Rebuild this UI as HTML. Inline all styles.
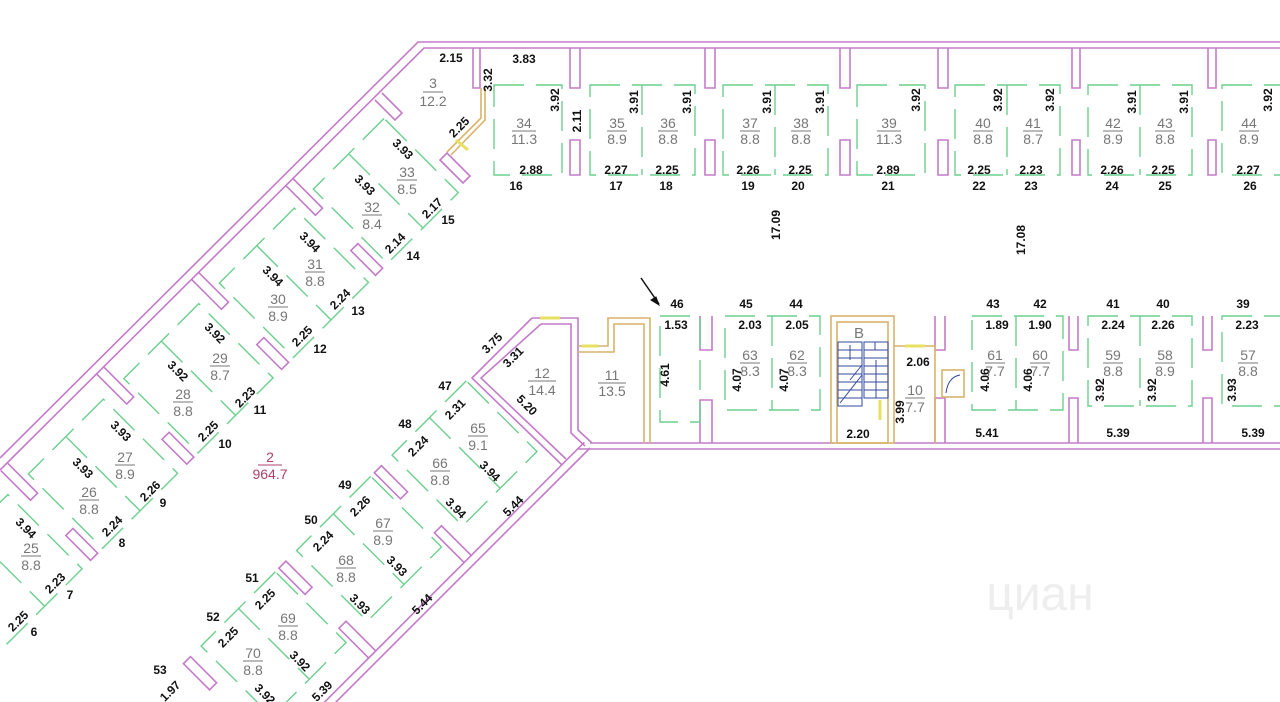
<!DOCTYPE html>
<html><head><meta charset="utf-8"><style>
html,body{margin:0;padding:0;background:#fff;width:1280px;height:702px;overflow:hidden}
svg{display:block;overflow:hidden}
.w{fill:none;stroke:#c37bc9;stroke-width:1.6}
.g{fill:none;stroke:#6ccf8e;stroke-width:1.4;stroke-dasharray:30 12}
.o{fill:none;stroke:#d9b46a;stroke-width:1.6}
.d{font-family:"Liberation Sans",sans-serif;font-weight:bold;font-size:12px;fill:#111;text-anchor:middle}
.r{font-family:"Liberation Sans",sans-serif;font-size:14px;fill:#777;text-anchor:middle}
.rl{stroke:#777;stroke-width:1}
</style></head><body>
<svg width="1280" height="702" viewBox="0 0 1280 702" xmlns="http://www.w3.org/2000/svg">
<polyline class="w" points="0,458 418,42 1280,42"/>
<polyline class="w" points="0,470 424,48 1280,48"/>
<g class="w">
<path d="M473,48V88H480V48"/>
<path d="M570,48V88H580V48 M570,175V140H580V175Z"/>
<path d="M705,48V88H715V48 M705,175V140H715V175Z"/>
<path d="M840,48V88H850V48 M840,175V140H850V175Z"/>
<path d="M938,48V88H948V48 M938,175V140H948V175Z"/>
<path d="M1072,48V88H1080V48 M1072,175V140H1080V175Z"/>
<path d="M1208,48V88H1216V48 M1208,175V140H1216V175Z"/>
</g>
<g class="g">
<rect x="494" y="85" width="68" height="90"/>
<rect x="590" y="85" width="105" height="90"/><line x1="642" y1="85" x2="642" y2="175"/>
<rect x="723" y="85" width="105" height="90"/><line x1="775" y1="85" x2="775" y2="175"/>
<rect x="857" y="85" width="68" height="90"/>
<rect x="955" y="85" width="105" height="90"/><line x1="1007" y1="85" x2="1007" y2="175"/>
<rect x="1088" y="85" width="104" height="90"/><line x1="1140" y1="85" x2="1140" y2="175"/>
<rect x="1222" y="85" width="80" height="90"/>
</g>
<polyline class="o" points="481,88 481,118 447,152" />
<polyline class="o" points="485,88 485,120 451,155"/>
<path class="w" d="M375,100 L395,120 L402,113 L382,93"/>
<path class="w" d="M440,160 L463,183 L470,176 L447,153Z"/>
<g class="w">
<path d="M590,443H835 M893,443H1280 M578,449H1280"/>
<path d="M700,316V350H712V316 M700,443V400H712V443"/>
<path d="M935,316V350H945V316 M935,443V398H945V443"/>
<path d="M1069,316V350H1078V316 M1069,443V398H1078V443"/>
<path d="M1203,316V350H1212V316 M1203,443V398H1212V443"/>
<polyline points="532,318 578,318 578,430 592,443"/>
<polyline points="541,324 571,324 571,433 585,446"/>
<polyline points="532,318 472,378 562,465"/>
<polyline points="541,324 481,378 566,459"/>
</g>
<polyline class="o" points="578,346 608,346 608,318 650,318 650,443"/>
<polyline class="o" points="578,352 614,352 614,324 644,324 644,443"/>
<rect class="o" x="831" y="316" width="63" height="127"/>
<rect class="o" x="837" y="322" width="51" height="121"/>
<polyline class="o" points="894,346 935,346 935,443"/>
<rect class="o" x="942" y="370" width="22" height="27"/>
<g stroke="#334aa0" stroke-width="1" fill="none">
<rect x="838" y="342" width="24" height="64"/><rect x="864" y="342" width="24" height="56"/>
<path d="M838,350H862M838,358H862M838,366H862M838,374H862M838,382H862M838,390H862M838,398H862"/>
<path d="M864,350H888M864,358H888M864,366H888M864,374H888M864,382H888M864,390H888"/>
<path d="M875,342V350M876,398V390 M850,380L862,365 M850,345V360 M876,360V398"/>
<path d="M840,403L862,375"/>
<path d="M946,393Q948,377 960,375"/>
</g>
<g class="g">
<rect x="660" y="316" width="40" height="106"/>
<rect x="725" y="316" width="95" height="94"/><line x1="772" y1="316" x2="772" y2="410"/>
<rect x="972" y="316" width="91" height="94"/><line x1="1016" y1="316" x2="1016" y2="410"/>
<rect x="1088" y="316" width="104" height="90"/><line x1="1140" y1="316" x2="1140" y2="406"/>
<rect x="1222" y="316" width="80" height="90"/>
</g>
<g transform="translate(418,42) rotate(135) scale(1,-1)">
<g class="w">
<path d="M185,8V50H195V8 M318,8V50H328V8 M452,8V50H462V8 M588,8V50H598V8"/>
<path d="M185,100V135H195V100Z M318,100V135H328V100Z M452,100V135H462V100Z M588,100V135H598V100Z"/>
</g>
<g class="g">
<rect x="78" y="30" width="100" height="105"/><line x1="128" y1="30" x2="128" y2="135"/>
<rect x="205" y="30" width="106" height="105"/><line x1="258" y1="30" x2="258" y2="135"/>
<rect x="340" y="30" width="106" height="105"/><line x1="393" y1="30" x2="393" y2="135"/>
<rect x="475" y="30" width="106" height="105"/><line x1="528" y1="30" x2="528" y2="135"/>
<rect x="610" y="30" width="106" height="105"/><line x1="663" y1="30" x2="663" y2="135"/>
</g>
</g>
<g transform="translate(590,448) rotate(135) scale(1,-1)">
<g class="w">
<path d="M0,0H400 M0,-8H400"/>
<path d="M160,-8V-50H170V-8 M295,-8V-50H305V-8"/>
<path d="M160,-98V-135H170V-98Z M295,-98V-135H305V-98Z M430,-98V-135H440V-98Z"/>
</g>
<g class="g">
<rect x="40" y="-135" width="105" height="100"/><line x1="92" y1="-135" x2="92" y2="-35"/>
<rect x="175" y="-135" width="105" height="100"/><line x1="228" y1="-135" x2="228" y2="-35"/>
<rect x="310" y="-135" width="105" height="100"/><line x1="362" y1="-135" x2="362" y2="-35"/>
</g>
</g>
<g stroke="#e8e060" stroke-width="3">
<path d="M540,318H560M582,346H598M905,346H925M880,400V420M456,140L468,150"/>
</g>
<path d="M641,278L659,304" stroke="#111" stroke-width="1.5"/>
<path d="M659,305L651,300L656,297Z" fill="#111" stroke="#111"/>

<text class="d" x="451" y="62">2.15</text>
<text class="d" x="524" y="63">3.83</text>
<text class="r" x="433" y="88">3</text><line class="rl" x1="423" y1="92" x2="443" y2="92"/><text class="r" x="433" y="106">12.2</text>
<text class="d" transform="translate(492,80) rotate(-90)">3.32</text>
<text class="d" transform="translate(462,130) rotate(-45)">2.25</text>
<g>
<text class="r" x="524" y="128">34</text><line class="rl" x1="512" y1="131" x2="536" y2="131"/><text class="r" x="524" y="144">11.3</text>
<text class="r" x="617" y="128">35</text><line class="rl" x1="607" y1="131" x2="627" y2="131"/><text class="r" x="617" y="144">8.9</text>
<text class="r" x="668" y="128">36</text><line class="rl" x1="658" y1="131" x2="678" y2="131"/><text class="r" x="668" y="144">8.8</text>
<text class="r" x="750" y="128">37</text><line class="rl" x1="740" y1="131" x2="760" y2="131"/><text class="r" x="750" y="144">8.8</text>
<text class="r" x="801" y="128">38</text><line class="rl" x1="791" y1="131" x2="811" y2="131"/><text class="r" x="801" y="144">8.8</text>
<text class="r" x="889" y="128">39</text><line class="rl" x1="877" y1="131" x2="901" y2="131"/><text class="r" x="889" y="144">11.3</text>
<text class="r" x="983" y="128">40</text><line class="rl" x1="973" y1="131" x2="993" y2="131"/><text class="r" x="983" y="144">8.8</text>
<text class="r" x="1033" y="128">41</text><line class="rl" x1="1023" y1="131" x2="1043" y2="131"/><text class="r" x="1033" y="144">8.7</text>
<text class="r" x="1113" y="128">42</text><line class="rl" x1="1103" y1="131" x2="1123" y2="131"/><text class="r" x="1113" y="144">8.9</text>
<text class="r" x="1165" y="128">43</text><line class="rl" x1="1155" y1="131" x2="1175" y2="131"/><text class="r" x="1165" y="144">8.8</text>
<text class="r" x="1249" y="128">44</text><line class="rl" x1="1239" y1="131" x2="1259" y2="131"/><text class="r" x="1249" y="144">8.9</text>
</g>
<g class="d">
<text x="531" y="174">2.88</text><text x="616" y="174">2.27</text><text x="667" y="174">2.25</text>
<text x="748" y="174">2.26</text><text x="800" y="174">2.25</text><text x="888" y="174">2.89</text>
<text x="979" y="174">2.25</text><text x="1031" y="174">2.23</text><text x="1112" y="174">2.26</text>
<text x="1163" y="174">2.25</text><text x="1248" y="174">2.27</text>
<text x="516" y="190">16</text><text x="616" y="190">17</text><text x="666" y="190">18</text>
<text x="748" y="190">19</text><text x="798" y="190">20</text><text x="888" y="190">21</text>
<text x="979" y="190">22</text><text x="1031" y="190">23</text><text x="1112" y="190">24</text>
<text x="1165" y="190">25</text><text x="1250" y="190">26</text>
</g>
<g class="d">
<text transform="translate(559,100) rotate(-90)">3.92</text>
<text transform="translate(638,102) rotate(-90)">3.91</text>
<text transform="translate(691,102) rotate(-90)">3.91</text>
<text transform="translate(771,102) rotate(-90)">3.91</text>
<text transform="translate(824,102) rotate(-90)">3.91</text>
<text transform="translate(920,100) rotate(-90)">3.92</text>
<text transform="translate(1002,100) rotate(-90)">3.92</text>
<text transform="translate(1054,100) rotate(-90)">3.92</text>
<text transform="translate(1136,102) rotate(-90)">3.91</text>
<text transform="translate(1188,102) rotate(-90)">3.91</text>
<text transform="translate(1272,100) rotate(-90)">3.92</text>
<text transform="translate(581,121) rotate(-90)">2.11</text>
<text transform="translate(780,225) rotate(-90)">17.09</text>
<text transform="translate(1025,240) rotate(-90)">17.08</text>
</g>
<g class="d">
<text x="677" y="308">46</text><text x="746" y="308">45</text><text x="796" y="308">44</text>
<text x="993" y="308">43</text><text x="1040" y="308">42</text><text x="1113" y="308">41</text>
<text x="1163" y="308">40</text><text x="1243" y="308">39</text>
<text x="676" y="329">1.53</text><text x="750" y="329">2.03</text><text x="797" y="329">2.05</text>
<text x="997" y="329">1.89</text><text x="1040" y="329">1.90</text><text x="1113" y="329">2.24</text>
<text x="1163" y="329">2.26</text><text x="1247" y="329">2.23</text>
<text x="918" y="366">2.06</text><text x="858" y="438">2.20</text>
<text x="987" y="437">5.41</text><text x="1118" y="437">5.39</text><text x="1253" y="437">5.39</text>
<text transform="translate(669,375) rotate(-90)">4.61</text>
<text transform="translate(741,380) rotate(-90)">4.07</text>
<text transform="translate(788,380) rotate(-90)">4.07</text>
<text transform="translate(989,380) rotate(-90)">4.06</text>
<text transform="translate(1032,380) rotate(-90)">4.06</text>
<text transform="translate(1104,390) rotate(-90)">3.92</text>
<text transform="translate(1156,390) rotate(-90)">3.92</text>
<text transform="translate(1236,390) rotate(-90)">3.93</text>
<text transform="translate(904,412) rotate(-90)">3.99</text>
</g>
<text class="r" x="859" y="338" style="font-size:15px">B</text>
<g>
<text class="r" x="750" y="360">63</text><line class="rl" x1="740" y1="363" x2="760" y2="363"/><text class="r" x="750" y="376">8.3</text>
<text class="r" x="797" y="360">62</text><line class="rl" x1="787" y1="363" x2="807" y2="363"/><text class="r" x="797" y="376">8.3</text>
<text class="r" x="995" y="360">61</text><line class="rl" x1="985" y1="363" x2="1005" y2="363"/><text class="r" x="995" y="376">7.7</text>
<text class="r" x="1040" y="360">60</text><line class="rl" x1="1030" y1="363" x2="1050" y2="363"/><text class="r" x="1040" y="376">7.7</text>
<text class="r" x="1113" y="360">59</text><line class="rl" x1="1103" y1="363" x2="1123" y2="363"/><text class="r" x="1113" y="376">8.8</text>
<text class="r" x="1165" y="360">58</text><line class="rl" x1="1155" y1="363" x2="1175" y2="363"/><text class="r" x="1165" y="376">8.9</text>
<text class="r" x="1248" y="360">57</text><line class="rl" x1="1238" y1="363" x2="1258" y2="363"/><text class="r" x="1248" y="376">8.8</text>
<text class="r" x="915" y="395">10</text><line class="rl" x1="905" y1="398" x2="925" y2="398"/><text class="r" x="915" y="412">7.7</text>
<text class="r" x="612" y="380">11</text><line class="rl" x1="598" y1="383" x2="626" y2="383"/><text class="r" x="612" y="396">13.5</text>
<text class="r" x="542" y="378">12</text><line class="rl" x1="528" y1="381" x2="556" y2="381"/><text class="r" x="542" y="395">14.4</text>
</g>
<g class="r">
<text x="407" y="177">33</text><line class="rl" x1="397" y1="180" x2="417" y2="180"/><text x="407" y="194">8.5</text>
<text x="372" y="212">32</text><line class="rl" x1="362" y1="215" x2="382" y2="215"/><text x="372" y="229">8.4</text>
<text x="315" y="269">31</text><line class="rl" x1="305" y1="272" x2="325" y2="272"/><text x="315" y="286">8.8</text>
<text x="278" y="304">30</text><line class="rl" x1="268" y1="307" x2="288" y2="307"/><text x="278" y="321">8.9</text>
<text x="220" y="363">29</text><line class="rl" x1="210" y1="366" x2="230" y2="366"/><text x="220" y="380">8.7</text>
<text x="183" y="399">28</text><line class="rl" x1="173" y1="402" x2="193" y2="402"/><text x="183" y="416">8.8</text>
<text x="125" y="462">27</text><line class="rl" x1="115" y1="465" x2="135" y2="465"/><text x="125" y="479">8.9</text>
<text x="89" y="497">26</text><line class="rl" x1="79" y1="500" x2="99" y2="500"/><text x="89" y="514">8.8</text>
<text x="31" y="553">25</text><line class="rl" x1="21" y1="556" x2="41" y2="556"/><text x="31" y="570">8.8</text>
<text x="478" y="433">65</text><line class="rl" x1="468" y1="436" x2="488" y2="436"/><text x="478" y="450">9.1</text>
<text x="440" y="468">66</text><line class="rl" x1="430" y1="471" x2="450" y2="471"/><text x="440" y="485">8.8</text>
<text x="383" y="528">67</text><line class="rl" x1="373" y1="531" x2="393" y2="531"/><text x="383" y="545">8.9</text>
<text x="346" y="565">68</text><line class="rl" x1="336" y1="568" x2="356" y2="568"/><text x="346" y="582">8.8</text>
<text x="288" y="623">69</text><line class="rl" x1="278" y1="626" x2="298" y2="626"/><text x="288" y="640">8.8</text>
<text x="253" y="658">70</text><line class="rl" x1="243" y1="661" x2="263" y2="661"/><text x="253" y="675">8.8</text>
</g>
<text class="r" x="270" y="462" style="fill:#b0406a">2</text><line x1="258" y1="465" x2="282" y2="465" stroke="#b0406a"/><text class="r" x="270" y="479" style="fill:#b0406a">964.7</text>
<g class="d">
<text transform="translate(400,152) rotate(45)">3.93</text>
<text transform="translate(362,188) rotate(45)">3.93</text>
<text transform="translate(307,245) rotate(45)">3.94</text>
<text transform="translate(270,279) rotate(45)">3.94</text>
<text transform="translate(212,336) rotate(45)">3.92</text>
<text transform="translate(175,374) rotate(45)">3.92</text>
<text transform="translate(118,434) rotate(45)">3.93</text>
<text transform="translate(80,471) rotate(45)">3.93</text>
<text transform="translate(23,531) rotate(45)">3.94</text>
<text transform="translate(435,211) rotate(-45)">2.17</text>
<text transform="translate(398,246) rotate(-45)">2.14</text>
<text transform="translate(343,302) rotate(-45)">2.24</text>
<text transform="translate(305,339) rotate(-45)">2.25</text>
<text transform="translate(248,400) rotate(-45)">2.23</text>
<text transform="translate(211,434) rotate(-45)">2.25</text>
<text transform="translate(153,494) rotate(-45)">2.26</text>
<text transform="translate(115,529) rotate(-45)">2.24</text>
<text transform="translate(58,586) rotate(-45)">2.23</text>
<text transform="translate(21,624) rotate(-45)">2.25</text>
<text x="448" y="224">15</text><text x="413" y="260">14</text><text x="358" y="315">13</text>
<text x="320" y="353">12</text><text x="260" y="414">11</text><text x="225" y="448">10</text>
<text x="163" y="507">9</text><text x="122" y="547">8</text><text x="70" y="599">7</text><text x="34" y="636">6</text>
<text transform="translate(495,346) rotate(-45)">3.75</text>
<text transform="translate(516,360) rotate(-45)">3.31</text>
<text transform="translate(524,408) rotate(45)">5.20</text>
<text x="445" y="390">47</text><text x="405" y="428">48</text><text x="345" y="489">49</text>
<text x="311" y="524">50</text><text x="252" y="582">51</text><text x="213" y="621">52</text><text x="160" y="674">53</text>
<text transform="translate(458,412) rotate(-45)">2.31</text>
<text transform="translate(421,449) rotate(-45)">2.24</text>
<text transform="translate(363,509) rotate(-45)">2.26</text>
<text transform="translate(326,544) rotate(-45)">2.24</text>
<text transform="translate(268,602) rotate(-45)">2.25</text>
<text transform="translate(231,640) rotate(-45)">2.25</text>
<text transform="translate(173,694) rotate(-45)">1.97</text>
<text transform="translate(487,474) rotate(45)">3.94</text>
<text transform="translate(453,511) rotate(45)">3.94</text>
<text transform="translate(394,569) rotate(45)">3.93</text>
<text transform="translate(357,607) rotate(45)">3.93</text>
<text transform="translate(297,664) rotate(45)">3.92</text>
<text transform="translate(262,697) rotate(45)">3.92</text>
<text transform="translate(516,509) rotate(-45)">5.44</text>
<text transform="translate(425,607) rotate(-45)">5.44</text>
<text transform="translate(325,694) rotate(-45)">5.39</text>
</g>
<text x="1040" y="610" style="font-family:'Liberation Sans',sans-serif;font-size:48px;fill:#eee;text-anchor:middle">циан</text>
</svg>
</body></html>
